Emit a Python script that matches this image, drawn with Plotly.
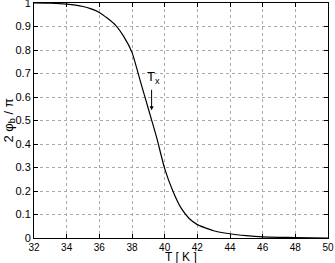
import plotly.graph_objects as go

temperature = [32, 33, 34, 35, 35.5, 36, 36.5, 37, 37.5, 38, 38.5, 39, 39.5,
               40, 40.5, 41, 41.5, 42, 43, 44, 45, 46, 47, 48, 50]
phase = [1.0, 0.999, 0.995, 0.985, 0.975, 0.96, 0.935, 0.905, 0.857, 0.79,
         0.67, 0.55, 0.43, 0.295, 0.2, 0.128, 0.083, 0.057, 0.031, 0.018,
         0.01, 0.005, 0.003, 0.002, 0.0]

tx_x = 39.2
tx_y_tail = 0.637
tx_y_head = 0.544

fig = go.Figure()
fig.add_trace(go.Scatter(x=temperature, y=phase, mode="lines",
                         line=dict(color="black", width=1.2, shape="spline", smoothing=0.5),
                         showlegend=False, hoverinfo="skip"))

fig.add_annotation(x=tx_x, y=tx_y_head, ax=tx_x, ay=tx_y_tail, xref="x", yref="y",
                   axref="x", ayref="y", text="", showarrow=True, arrowhead=2,
                   arrowsize=0.8, arrowwidth=1, arrowcolor="black")
fig.add_annotation(x=tx_x, y=tx_y_tail, text="T<sub>x</sub>", showarrow=False,
                   yanchor="bottom", xanchor="center", xshift=2,
                   font=dict(size=13, color="black"))

# axis titles as paper annotations so the margins stay fixed
fig.add_annotation(x=0.5, y=0, xref="paper", yref="paper", yshift=-11, borderpad=0,
                   text="T [ K ]", showarrow=False, yanchor="top",
                   font=dict(size=12, color="black"))
fig.add_annotation(x=0, y=0.5, xref="paper", yref="paper", xshift=-25,
                   text="2 φ<sub>b</sub> / π", showarrow=False, textangle=-90,
                   xanchor="center", font=dict(size=13, color="black"))

axis_common = dict(showline=True, linecolor="black", linewidth=1, mirror="ticks",
                   ticks="inside", ticklen=4, tickcolor="black",
                   showgrid=True, gridcolor="#aaaaaa", griddash="dot", gridwidth=1,
                   zeroline=False, automargin=False, ticklabeloverflow="allow")

fig.update_xaxes(range=[32, 50], dtick=2, tick0=32, ticklabelstandoff=0,
                 tickfont=dict(size=10, color="black"), **axis_common)
fig.update_yaxes(range=[0, 1], dtick=0.1,
                 tickfont=dict(size=11, color="black"), **axis_common)

fig.update_layout(width=335, height=263, margin=dict(l=34, r=7, t=3, b=25),
                  plot_bgcolor="white", paper_bgcolor="white",
                  font=dict(family="Liberation Sans, Arial, sans-serif", color="black"))

fig.write_html("out.html", config={"displayModeBar": False},
               post_script="document.body.style.margin='0';")
